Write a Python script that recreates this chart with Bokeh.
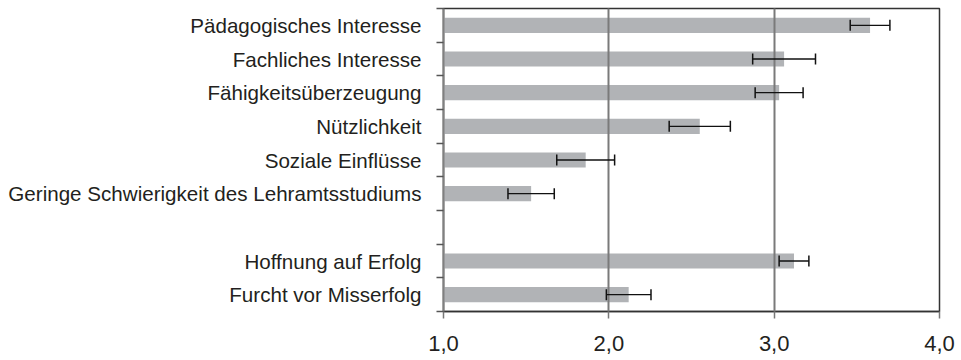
from bokeh.plotting import figure
from bokeh.models import ColumnDataSource, FixedTicker, Range1d, Whisker, TeeHead
from bokeh.embed import file_html
from bokeh.resources import INLINE

# Motive scales (top group) and achievement motivation (bottom group)
categories = [
    "Pädagogisches Interesse",
    "Fachliches Interesse",
    "Fähigkeitsüberzeugung",
    "Nützlichkeit",
    "Soziale Einflüsse",
    "Geringe Schwierigkeit des Lehramtsstudiums",
    "Hoffnung auf Erfolg",
    "Furcht vor Misserfolg",
]
means = [3.58, 3.06, 3.03, 2.55, 1.86, 1.53, 3.12, 2.12]
errors = [0.12, 0.19, 0.145, 0.185, 0.175, 0.14, 0.09, 0.135]
group_sizes = [6, 2]
x_ticks = [1, 2, 3, 4]
x_tick_labels = ["1,0", "2,0", "3,0", "4,0"]

FONT = "Liberation Sans"
TEXT = "#231f20"

# Slot positions from top to bottom, with one empty slot between the groups
n_slots = sum(group_sizes) + len(group_sizes) - 1
ys = []
slot = n_slots
for gi, size in enumerate(group_sizes):
    for _ in range(size):
        ys.append(slot - 0.5)
        slot -= 1
    slot -= 1

src = ColumnDataSource(dict(
    y=ys,
    mean=means,
    lower=[m - e for m, e in zip(means, errors)],
    upper=[m + e for m, e in zip(means, errors)],
    base=[x_ticks[0]] * len(means),
))

p = figure(
    width=961, height=360,
    output_backend="svg", toolbar_location=None,
    x_range=Range1d(x_ticks[0], x_ticks[-1]),
    y_range=Range1d(0, n_slots),
    min_border_left=443, min_border_right=22,
    min_border_top=8, min_border_bottom=49,
)
p.outline_line_color = "#333333"
p.outline_line_width = 1.5
p.background_fill_color = "white"
p.border_fill_color = "white"

p.hbar(y="y", left="base", right="mean", height=0.45, source=src,
       fill_color="#b1b3b6", line_color=None)

err = Whisker(source=src, base="y", lower="lower", upper="upper",
              dimension="width", line_color="#111111", line_width=1.3,
              level="overlay",
              lower_head=TeeHead(size=11, line_color="#111111", line_width=1.5),
              upper_head=TeeHead(size=11, line_color="#111111", line_width=1.5))
p.add_layout(err)

# x axis
p.xaxis.ticker = FixedTicker(ticks=x_ticks)
p.xaxis.major_label_overrides = {t: l for t, l in zip(x_ticks, x_tick_labels)}
p.xaxis.major_label_text_font = FONT
p.xaxis.major_label_text_font_size = "22px"
p.xaxis.major_label_text_color = TEXT
p.xaxis.major_label_standoff = 17
p.xaxis.axis_line_color = "#333333"
p.xaxis.axis_line_width = 1.5
p.xaxis.major_tick_line_color = "#777777"
p.xaxis.major_tick_line_width = 1.5
p.xaxis.major_tick_in = 0
p.xaxis.major_tick_out = 7
p.xaxis.minor_tick_line_color = None

# y axis: labels at slot centres, tick marks at slot boundaries
p.yaxis.ticker = FixedTicker(ticks=ys, minor_ticks=list(range(n_slots + 1)))
p.yaxis.major_label_overrides = {y: c for y, c in zip(ys, categories)}
p.yaxis.major_label_text_font = FONT
p.yaxis.major_label_text_font_size = "20.6px"
p.yaxis.major_label_text_color = TEXT
p.yaxis.major_label_standoff = 15
p.yaxis.major_tick_line_color = None
p.yaxis.major_tick_in = 0
p.yaxis.major_tick_out = 0
p.yaxis.minor_tick_line_color = "#555555"
p.yaxis.minor_tick_line_width = 1.5
p.yaxis.minor_tick_in = 0
p.yaxis.minor_tick_out = 7
p.yaxis.axis_line_color = "#808080"
p.yaxis.axis_line_width = 2

p.ygrid.grid_line_color = None
p.xgrid.ticker = FixedTicker(ticks=x_ticks[1:-1])
p.xgrid.grid_line_color = "#7a7a7a"
p.xgrid.grid_line_width = 2
p.xgrid.level = "overlay"

open("out.html", "w").write(file_html(p, INLINE))
